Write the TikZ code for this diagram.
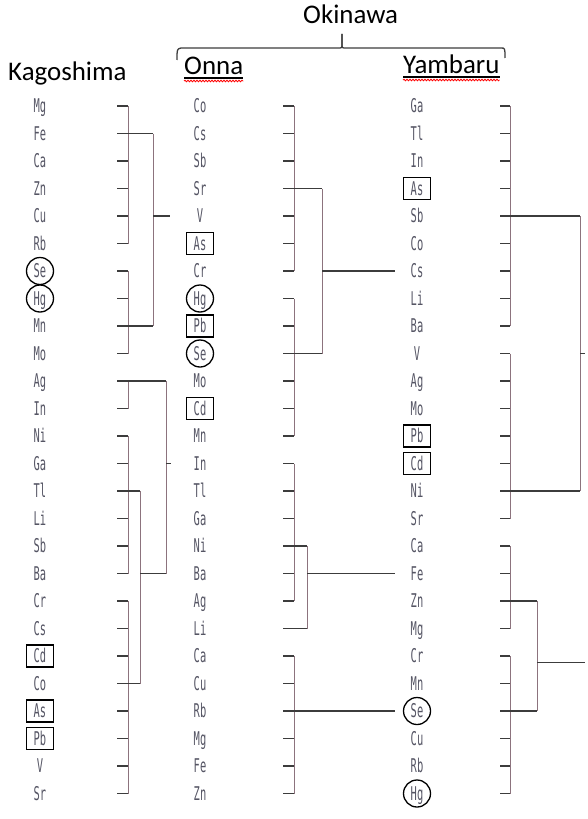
\documentclass[tikz,border=0pt]{standalone}
\usepackage{fontspec}
\setmainfont{Carlito}
\newfontfamily\elfont[FakeStretch=0.55]{DejaVu Sans Mono}
\usetikzlibrary{calc,decorations.pathmorphing}
\definecolor{elgray}{RGB}{85,85,100}
\definecolor{tickgray}{RGB}{60,60,60}
\definecolor{vlinegray}{RGB}{140,115,125}
\begin{document}
\begin{tikzpicture}[
    x=1bp, y=-1bp,
    head/.style={anchor=base west, inner sep=0pt, font=\fontsize{27}{30}\selectfont},
    elem/.style={inner sep=0pt, text height=13bp, text depth=0pt, text=elgray, font=\elfont\fontsize{19}{19}\selectfont},
    boxed/.style={draw=black, line width=1.3bp, minimum width=27bp, minimum height=22bp, inner sep=0pt},
    ringed/.style={draw=black, circle, line width=1.3bp, minimum size=27bp, inner sep=0pt},
    tick/.style={draw=tickgray, line width=1.3bp},
    vline/.style={draw=vlinegray, line width=1bp},
    brace/.style={draw=tickgray, line width=1.3bp},
    uline/.style={line width=1.2bp},
    squiggle/.style={red, line width=0.8bp, decorate, decoration={snake, amplitude=0.8bp, segment length=3bp}}
  ]
    \useasboundingbox (0,0) rectangle (588,819);

    \node[head] (kago) at (8,81) {Kagoshima};
    \node[head] (onna) at (184,75) {Onna};
    \node[head] (yamb) at (403,74) {Yambaru};
    \node[head] (oki) at (303,24) {Okinawa};
    \draw[uline] ([yshift=-3bp]onna.base west) -- ([yshift=-3bp]onna.base east);
    \draw[squiggle] ([yshift=-6bp]onna.base west) -- ([yshift=-6bp]onna.base east);
    \draw[uline] ([yshift=-3bp]yamb.base west) -- ([yshift=-3bp]yamb.base east);
    \draw[squiggle] ([yshift=-6bp]yamb.base west) -- ([yshift=-6bp]yamb.base east);

    \draw[brace] (177,60) .. controls (177,49) .. (181,48) -- (338,48) .. controls (342,48) .. (342,44) -- (342,34);
    \draw[brace] (342,34) -- (342,44) .. controls (342,48) .. (346,48) -- (501,48) .. controls (505,48) .. (505,58);

    \foreach \el [count=\i from 0] in {Mg,Fe,Ca,Zn,Cu,Rb,Se,Hg,Mn,Mo,Ag,In,Ni,Ga,Tl,Li,Sb,Ba,Cr,Cs,Cd,Co,As,Pb,V,Sr} {
      \node[elem] (k\i) at (40,{106+27.5*\i}) {\el};
      \coordinate (ks\i) at (117,{106+27.5*\i});
      \draw[tick] (ks\i) -- ++(11,0) coordinate (kv\i);
    }
    \foreach \el [count=\i from 0] in {Co,Cs,Sb,Sr,V,As,Cr,Hg,Pb,Se,Mo,Cd,Mn,In,Tl,Ga,Ni,Ba,Ag,Li,Ca,Cu,Rb,Mg,Fe,Zn} {
      \node[elem] (o\i) at (200,{106+27.5*\i}) {\el};
      \coordinate (os\i) at (283,{106+27.5*\i});
      \draw[tick] (os\i) -- ++(11,0) coordinate (ov\i);
    }
    \foreach \el [count=\i from 0] in {Ga,Tl,In,As,Sb,Co,Cs,Li,Ba,V,Ag,Mo,Pb,Cd,Ni,Sr,Ca,Fe,Zn,Mg,Cr,Mn,Se,Cu,Rb,Hg} {
      \node[elem] (y\i) at (417,{106+27.5*\i}) {\el};
      \coordinate (ys\i) at (500,{106+27.5*\i});
      \draw[tick] (ys\i) -- ++(10,0) coordinate (yv\i);
    }

    \foreach \n in {k20,k22,k23,o5,o8,o11,y3,y12,y13}
      \node[boxed] (\n-mark) at (\n) {};
    \foreach \n in {k6,k7,o7,o9,y22,y25}
      \node[ringed] (\n-mark) at (\n) {};

    \draw[vline] (kv0) -- (kv5);
    \draw[vline] (kv6) -- (kv9);
    \draw[vline] (kv10) -- (kv11);
    \draw[vline] (kv12) -- (kv17);
    \draw[vline] (kv18) -- (kv25);
    \draw[tick] (ks1) -- ++(36,0) coordinate (kj1);
    \draw[tick] (ks8) -- ++(36,0) coordinate (kj8);
    \draw[vline] (kj1) -- (kj8);
    \draw[tick] (kj1 |- ks4) -- ++(17,0);
    \draw[tick] (ks10) -- ++(49,0) coordinate (kj10);
    \draw[tick] (ks14) -- ++(23,0) coordinate (kj14);
    \draw[tick] (ks21) -- ++(23,0) coordinate (kj21);
    \draw[vline] (kj14) -- (kj21);
    \draw[tick] (kj14 |- ks17) -- (kj10 |- ks17);
    \draw[vline] (kj10) -- (kj10 |- ks17);
    \draw[tick] (kj10 |- ks13) -- ++(5,0);

    \draw[vline] (ov0) -- (ov6);
    \draw[vline] (ov7) -- (ov12);
    \draw[vline] (ov13) -- (ov18);
    \draw[vline] (ov20) -- (ov25);
    \draw[tick] (os3) -- ++(39,0) coordinate (oj3);
    \draw[tick] (os9) -- ++(39,0) coordinate (oj9);
    \draw[vline] (oj3) -- (oj9);
    \draw[tick] (oj3 |- os6) -- ++(73,0) coordinate (oe6);
    \draw[tick] (os16) -- ++(24,0) coordinate (oj16);
    \draw[tick] (os19) -- ++(24,0) coordinate (oj19);
    \draw[vline] (oj16) -- (oj19);
    \draw[tick] (oj16 |- os17) -- (oe6 |- os17);
    \draw[tick] (os22) -- (oe6 |- os22);

    \draw[vline] (yv0) -- (yv8);
    \draw[vline] (yv9) -- (yv15);
    \draw[vline] (yv16) -- (yv19);
    \draw[vline] (yv20) -- (yv25);
    \draw[tick] (ys4) -- ++(80,0) coordinate (yj4);
    \draw[tick] (ys14) -- ++(80,0) coordinate (yj14);
    \draw[vline] (yj4) -- (yj14);
    \draw[tick] (yj4 |- ys9) -- ++(5,0);
    \draw[tick] (ys18) -- ++(37,0) coordinate (yj18);
    \draw[tick] (ys22) -- ++(37,0) coordinate (yj22);
    \draw[vline] (yj18) -- (yj22);
    \draw[tick] ($(yj18)!0.56!(yj22)$) -- ++(48,0);
  \end{tikzpicture}
\end{document}
